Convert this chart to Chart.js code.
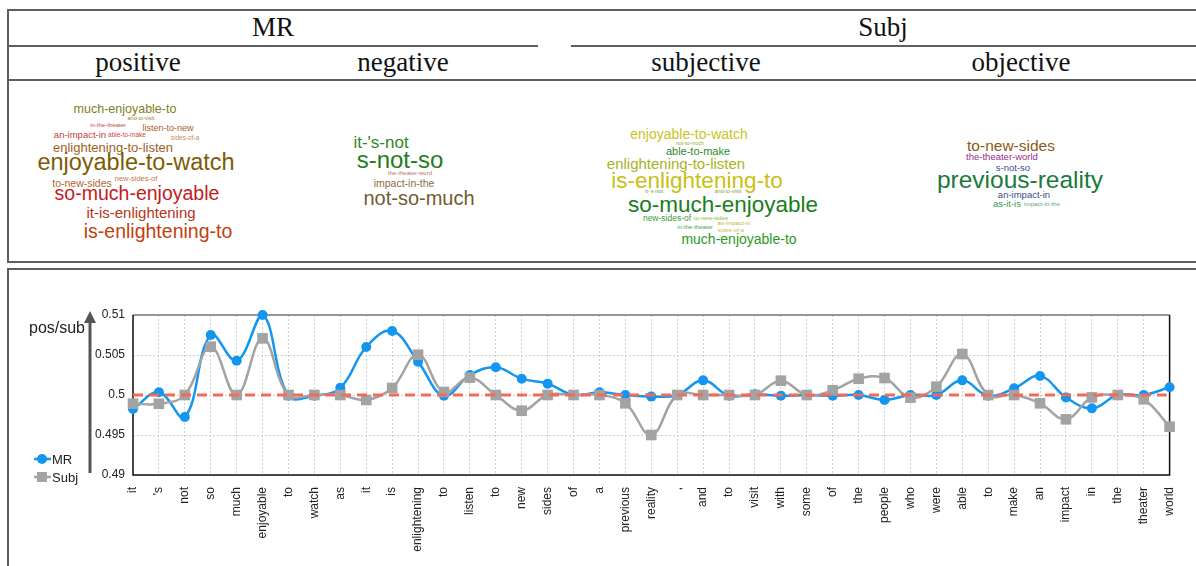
<!DOCTYPE html>
<html>
<head>
<meta charset="utf-8">
<script src="https://cdn.jsdelivr.net/npm/chart.js@4.4.0/dist/chart.umd.min.js"></script>
<style>
body { margin:0; width:1196px; height:566px; background:#fff; position:relative; overflow:hidden; font-family:"Liberation Sans", Arial, sans-serif; }
.hl { position:absolute; height:2px; background:#5e5e5e; }
.vl { position:absolute; width:2px; background:#5e5e5e; }
.head { position:absolute; font-family:"Liberation Serif", "Times New Roman", serif; font-size:27px; color:#111; transform:translate(-50%,-50%); white-space:nowrap; line-height:1; }
.word { position:absolute; transform:translate(-50%,-50%); white-space:nowrap; line-height:1; }
#chartBox { position:absolute; left:0; top:269px; width:1196px; height:297px; }
</style>
</head>
<body>
<!-- table frame on top -->
<div class="hl" style="left:8px;top:9px;width:1188px"></div>
<div class="hl" style="left:8px;top:45px;width:530px"></div>
<div class="hl" style="left:571px;top:45px;width:625px"></div>
<div class="hl" style="left:8px;top:79px;width:1188px"></div>
<div class="hl" style="left:8px;top:261px;width:1188px"></div>
<div class="vl" style="left:7px;top:9px;height:254px"></div>
<!-- chart box -->
<div class="hl" style="left:8px;top:268px;width:1188px"></div>
<div class="vl" style="left:7px;top:268px;height:298px"></div>

<div id="heads"></div>
<div id="clouds"></div>
<div id="chartBox"><canvas id="lineChart" width="1196" height="297"></canvas></div>

<script>
// x categories: the sentence, one token per point
var words = ['it', "'s", 'not', 'so', 'much', 'enjoyable', 'to', 'watch', 'as', 'it', 'is',
	'enlightening', 'to', 'listen', 'to', 'new', 'sides', 'of', 'a', 'previous', 'reality', ',',
	'and', 'to', 'visit', 'with', 'some', 'of', 'the', 'people', 'who', 'were', 'able', 'to',
	'make', 'an', 'impact', 'in', 'the', 'theater', 'world'];

var mrValues = [0.49825, 0.50034, 0.49725, 0.5075, 0.50429, 0.51, 0.4999, 0.4999, 0.5009, 0.506, 0.508,
	0.50417, 0.4999, 0.5025, 0.50346, 0.50204, 0.50142, 0.5, 0.50033, 0.5, 0.4998, 0.5,
	0.50183, 0.4999, 0.5001, 0.4999, 0.5, 0.4999, 0.5, 0.49938, 0.5, 0.5, 0.50183, 0.4999,
	0.50083, 0.50238, 0.4997, 0.49833, 0.5, 0.5, 0.50096];

var subjValues = [0.49892, 0.4989, 0.5, 0.50604, 0.5, 0.50708, 0.5, 0.5, 0.5, 0.49938, 0.50088,
	0.50504, 0.50038, 0.50217, 0.5, 0.49804, 0.5, 0.5, 0.5, 0.49896, 0.495, 0.5,
	0.5, 0.5, 0.5, 0.50179, 0.5, 0.50058, 0.50204, 0.50212, 0.49967, 0.50104, 0.50512, 0.5,
	0.5, 0.49896, 0.49696, 0.4997, 0.5, 0.49946, 0.49604];

var yTickLabels = ['0.49', '0.495', '0.5', '0.505', '0.51'];
var refValue = 0.5; // red dashed reference

var headers = [['MR', 273, 27], ['Subj', 883, 27], ['positive', 138, 62], ['negative', 403, 62],
	['subjective', 706, 62], ['objective', 1021, 62]];

// word clouds: text, x, y, font size, colour
var cloudPositive = [
	['much-enjoyable-to', 125, 109, 12.5, '#7f7f1f'],
	['and-to-visit', 141, 119, 5.5, '#a8783c'],
	['in-the-theater', 108, 125, 6, '#c8463c'],
	['listen-to-new', 168, 128, 9, '#a85e28'],
	['an-impact-in', 80, 135, 9.5, '#c83c3c'],
	['able-to-make', 127, 135, 6.5, '#d04646'],
	['sides-of-a', 185, 138, 6.5, '#c48a5a'],
	['enlightening-to-listen', 113, 147, 13, '#a0601e'],
	['enjoyable-to-watch', 136, 163, 23.5, '#7d5c05'],
	['to-new-sides', 82, 183, 10.5, '#b0642a'],
	['new-sides-of', 136, 179, 7.5, '#c07a4a'],
	['so-much-enjoyable', 137, 194, 19.5, '#c41a1e'],
	['it-is-enlightening', 141, 212, 15, '#b83212'],
	['is-enlightening-to', 158, 232, 19.5, '#c4400c']
];
var cloudNegative = [
	["it-'s-not", 381, 142, 17, '#2e8a1e'],
	['s-not-so', 400, 160, 24, '#1e7d1e'],
	['the-theater-word', 410, 173, 6, '#b07a6a'],
	['impact-in-the', 404, 183, 10.5, '#8a6a3c'],
	['not-so-much', 419, 198, 20, '#6e5c30']
];
var cloudSubjective = [
	['enjoyable-to-watch', 689, 134, 14, '#c8c424'],
	['not-so-much', 690, 143, 5, '#98a838'],
	['able-to-make', 698, 151, 11, '#2a8a2a'],
	['enlightening-to-listen', 676, 163, 15, '#a6b424'],
	['is-enlightening-to', 697, 181, 22.5, '#c8c014'],
	["it-'s-not", 654, 192, 5.5, '#58a848'],
	['and-to-visit', 728, 192, 5.5, '#78a838'],
	['so-much-enjoyable', 723, 205, 22.5, '#1a7d1a'],
	['new-sides-of', 667, 218, 8.5, '#3a9a3a'],
	['to-new-sides', 711, 218, 6, '#88b848'],
	['an-impact-in', 734, 223, 6, '#b8b838'],
	['in-the-theater', 695, 227, 6, '#48a848'],
	['sides-of-a', 731, 230, 6, '#c8c448'],
	['much-enjoyable-to', 739, 239, 14, '#2a9a1e']
];
var cloudObjective = [
	['to-new-sides', 1011, 146, 15.5, '#8a5a14'],
	['the-theater-world', 1002, 157, 9.5, '#9a2a8a'],
	['s-not-so', 1013, 168, 9.5, '#3a4a9a'],
	['previous-reality', 1020, 180, 24.5, '#1a7a3a'],
	['an-impact-in', 1024, 195, 9.5, '#3a4a8a'],
	['as-it-is', 1007, 204, 9.5, '#3a9a5a'],
	['impact-in-the', 1042, 204, 6.2, '#58a878']
];

headers.forEach(function (h) {
	var d = document.createElement('div');
	d.className = 'head';
	d.textContent = h[0];
	d.style.left = h[1] + 'px';
	d.style.top = h[2] + 'px';
	document.getElementById('heads').appendChild(d);
});

[cloudPositive, cloudNegative, cloudSubjective, cloudObjective].forEach(function (cloud) {
	cloud.forEach(function (w) {
		var d = document.createElement('div');
		d.className = 'word';
		d.textContent = w[0];
		d.style.left = w[1] + 'px';
		d.style.top = w[2] + 'px';
		d.style.fontSize = w[3] + 'px';
		d.style.color = w[4];
		document.getElementById('clouds').appendChild(d);
	});
});

Chart.defaults.font.family = '"Liberation Sans", Arial, sans-serif';
Chart.defaults.color = '#222';

var mrColor = '#1296f0';
var subjColor = '#a3a3a3';

// plot frame: black left/bottom/right, grey top
var framePlugin = {
	id: 'frame',
	beforeDatasetsDraw: function (chart) {
		var a = chart.chartArea, ctx = chart.ctx;
		ctx.save();
		ctx.lineWidth = 1.5;
		ctx.strokeStyle = '#777';
		ctx.beginPath(); ctx.moveTo(a.left, a.top); ctx.lineTo(a.right, a.top); ctx.stroke();
		ctx.strokeStyle = '#111';
		ctx.beginPath();
		ctx.moveTo(a.left, a.top); ctx.lineTo(a.left, a.bottom);
		ctx.lineTo(a.right, a.bottom); ctx.lineTo(a.right, a.top);
		ctx.stroke();
		ctx.restore();
	}
};

// red dashed line at 0.5
var refLinePlugin = {
	id: 'refLine',
	afterDatasetsDraw: function (chart) {
		var a = chart.chartArea, ctx = chart.ctx;
		var y = chart.scales.y.getPixelForValue(refValue);
		ctx.save();
		ctx.strokeStyle = '#f26a5a';
		ctx.lineWidth = 3;
		ctx.setLineDash([10, 6]);
		ctx.beginPath(); ctx.moveTo(a.left, y); ctx.lineTo(a.right - 3, y); ctx.stroke();
		ctx.restore();
	}
};

// axis arrow, axis title and the little legend bottom left
var extrasPlugin = {
	id: 'extras',
	afterDraw: function (chart) {
		var ctx = chart.ctx;
		ctx.save();
		ctx.strokeStyle = '#555';
		ctx.fillStyle = '#555';
		ctx.lineWidth = 3;
		ctx.beginPath(); ctx.moveTo(90, 204); ctx.lineTo(90, 52); ctx.stroke();
		ctx.beginPath(); ctx.moveTo(90, 42); ctx.lineTo(84, 54); ctx.lineTo(96, 54); ctx.closePath(); ctx.fill();

		ctx.fillStyle = '#222';
		ctx.font = '16px "Liberation Sans", Arial, sans-serif';
		ctx.textAlign = 'center';
		ctx.textBaseline = 'middle';
		ctx.fillText('pos/sub', 57, 60);

		ctx.lineWidth = 2.5;
		ctx.strokeStyle = mrColor;
		ctx.beginPath(); ctx.moveTo(34, 190); ctx.lineTo(51, 190); ctx.stroke();
		ctx.fillStyle = mrColor;
		ctx.beginPath(); ctx.arc(42, 190, 5, 0, Math.PI * 2); ctx.fill();
		ctx.strokeStyle = subjColor;
		ctx.beginPath(); ctx.moveTo(34, 208); ctx.lineTo(51, 208); ctx.stroke();
		ctx.fillStyle = subjColor;
		ctx.fillRect(37, 203, 10, 10);

		ctx.fillStyle = '#222';
		ctx.font = '13px "Liberation Sans", Arial, sans-serif';
		ctx.textAlign = 'left';
		ctx.fillText('MR', 52, 191);
		ctx.fillText('Subj', 52, 209);
		ctx.restore();
	}
};

const ctx = document.getElementById('lineChart');
new Chart(ctx, {
	type: 'line',
	data: {
		labels: words,
		datasets: [{
			label: 'Subj',
			data: subjValues,
			order: 1,
			borderColor: subjColor,
			backgroundColor: subjColor,
			borderWidth: 2.5,
			tension: 0.4,
			pointStyle: 'rect',
			pointRadius: 7.5,
			pointBorderWidth: 0,
			clip: false
		}, {
			label: 'MR',
			data: mrValues,
			order: 2,
			borderColor: mrColor,
			backgroundColor: mrColor,
			borderWidth: 2.5,
			tension: 0.4,
			pointRadius: 5,
			pointBorderWidth: 0,
			clip: false
		}]
	},
	options: {
		responsive: false,
		animation: false,
		layout: {
			padding: { left: 83, right: 23, top: 46, bottom: 0 }
		},
		scales: {
			y: {
				min: 0.49,
				max: 0.51,
				afterFit: function (s) { s.width = 50; },
				border: { display: false, dash: [2, 2] },
				grid: { color: '#cfcfcf', drawTicks: false },
				ticks: {
					stepSize: 0.005,
					padding: 8,
					font: { size: 12 },
					callback: function (v, i) { return yTickLabels[i]; }
				}
			},
			x: {
				afterFit: function (s) { s.height = 91; },
				border: { display: false, dash: [2, 2] },
				grid: { color: '#cfcfcf', drawTicks: false },
				ticks: {
					autoSkip: false,
					minRotation: 90,
					maxRotation: 90,
					padding: 12,
					font: { size: 12 }
				}
			}
		},
		plugins: {
			legend: { display: false },
			tooltip: { enabled: false }
		}
	},
	plugins: [framePlugin, refLinePlugin, extrasPlugin]
});
</script>
</body>
</html>
